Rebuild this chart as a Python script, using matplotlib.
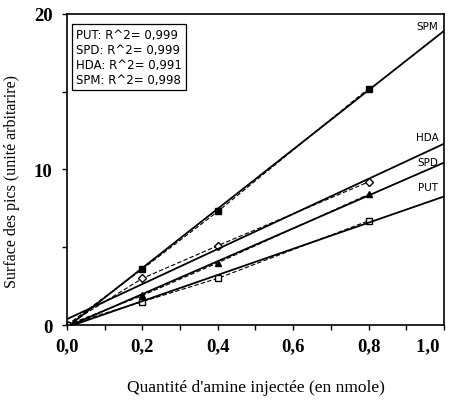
import numpy as np
import matplotlib.pyplot as plt
from matplotlib.ticker import MultipleLocator

# Données
x = [0.0, 0.2, 0.4, 0.8]
spm = [0.0, 3.6, 7.3, 15.2]
hda = [0.0, 3.0, 5.1, 9.2]
spd = [0.0, 1.9, 4.0, 8.4]
put = [0.0, 1.5, 3.0, 6.7]
r2_labels = ["PUT: R^2= 0,999", "SPD: R^2= 0,999", "HDA: R^2= 0,991", "SPM: R^2= 0,998"]
xtick_labels = ["0,0", "0,2", "0,4", "0,6", "0,8", "1,0 "]

fig = plt.figure(figsize=(4.53, 4.02), dpi=100)
ax = fig.add_axes([0.148, 0.189, 0.832, 0.774])

series = [(spm, "s", "black", "SPM"), (hda, "D", "white", "HDA"),
          (spd, "^", "black", "SPD"), (put, "s", "white", "PUT")]
xf = np.array([0.0, 1.0])
for y, m, fc, name in series:
    ax.plot(x, y, "--", color="black", lw=0.8, dashes=(4, 2))
    ax.plot(x, y, m, mfc=fc, mec="black", ms=4.5, mew=1.0, ls="none")
    a, b = np.polyfit(x, y, 1)
    ax.plot(xf, a * xf + b, "-", color="black", lw=1.3)

# étiquettes des droites
ax.text(0.985, 19.25, "SPM", ha="right", va="center", fontsize=7.5)
ax.text(0.985, 12.1, "HDA", ha="right", va="center", fontsize=7.5)
ax.text(0.985, 10.5, "SPD", ha="right", va="center", fontsize=7.5)
ax.text(0.985, 8.9, "PUT", ha="right", va="center", fontsize=7.5)

ax.text(0.025, 0.955, "\n".join(r2_labels), transform=ax.transAxes, ha="left", va="top",
        fontsize=8.5, linespacing=1.2,
        bbox=dict(boxstyle="square,pad=0.35", fc="white", ec="black", lw=0.9))

ax.set_xlim(0, 1.0)
ax.set_ylim(0, 20)
ax.set_xticks([0, 0.2, 0.4, 0.6, 0.8, 1.0])
ax.set_xticklabels(xtick_labels)
ax.xaxis.set_minor_locator(MultipleLocator(0.1))
ax.yaxis.set_major_locator(MultipleLocator(10))
ax.yaxis.set_minor_locator(MultipleLocator(5))
for lab in ax.get_xticklabels() + ax.get_yticklabels():
    lab.set_fontfamily("Liberation Serif")
    lab.set_fontweight("bold")
    lab.set_fontsize(13.5)
# le dernier label touche le bord droit
ax.get_xticklabels()[-1].set_horizontalalignment("right")
ax.tick_params(which="both", direction="out", length=3.5, width=1)
ax.tick_params(axis="x", which="major", pad=5)
ax.tick_params(axis="y", which="major", pad=7)
for s in ax.spines.values():
    s.set_linewidth(1.2)

ax.set_xlabel("Quantité d'amine injectée (en nmole)", family="Liberation Serif",
              fontsize=12.5, labelpad=18)
ax.set_ylabel("Surface des pics (unité arbitarire)", family="Liberation Serif",
              fontsize=11.5, va="center")
ax.yaxis.set_label_coords(-0.146, 0.463)

fig.savefig("out.png", dpi=100)
